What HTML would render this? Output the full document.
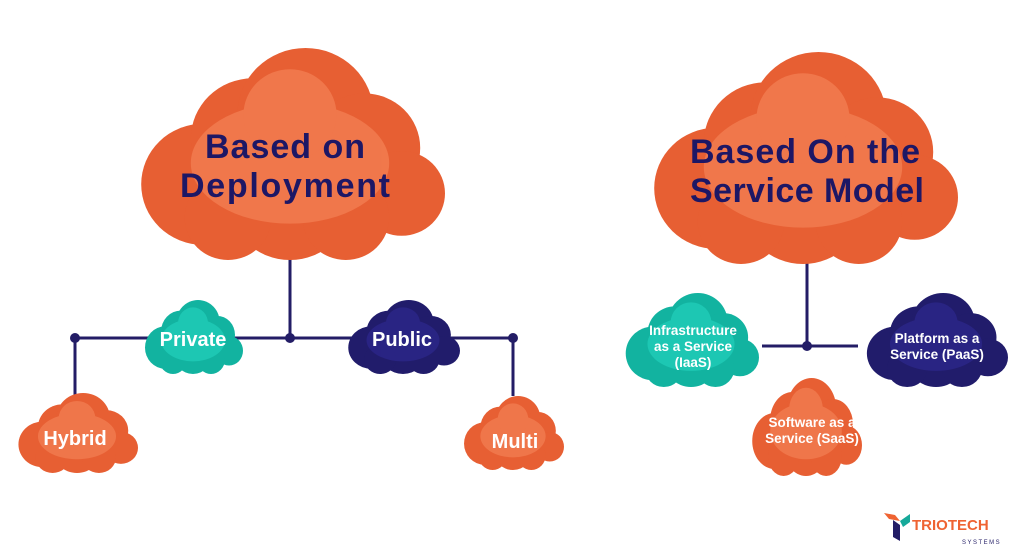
<!DOCTYPE html>
<html><head><meta charset="utf-8"><style>
body{margin:0;background:#fff;width:1024px;height:553px;overflow:hidden;font-family:"Liberation Sans",sans-serif}
</style></head><body>
<svg width="1024" height="553" viewBox="0 0 1024 553" xmlns="http://www.w3.org/2000/svg">
<defs>
<g id="c">
<circle cx="22" cy="45" r="20"/><circle cx="38" cy="30" r="20"/><circle cx="55" cy="22" r="22"/>
<circle cx="74" cy="33" r="18"/><circle cx="86" cy="48" r="14"/><circle cx="50" cy="50" r="20"/>
<circle cx="30" cy="56" r="14"/><circle cx="68" cy="56" r="14"/>
</g>
<g id="ci"><ellipse cx="50" cy="38" rx="32" ry="20"/><circle cx="50" cy="22" r="15"/></g>
</defs>
<g stroke="#231d66" stroke-width="3" fill="none">
<path d="M290 250V338M75 338H513M75 338V420M513 338V396"/>
<path d="M807 258V346M762 346H858"/>
</g>
<g fill="#231d66"><circle cx="75" cy="338" r="5"/><circle cx="290" cy="338" r="5"/><circle cx="513" cy="338" r="5"/><circle cx="807" cy="346" r="5"/></g>

<svg x="135" y="48" width="310" height="212" viewBox="0 0 100 70" preserveAspectRatio="none"><g fill="#e75f33"><use href="#c"/></g><g fill="#f27c50" opacity=".85"><use href="#ci"/></g></svg>
<svg x="648" y="52" width="310" height="212" viewBox="0 0 100 70" preserveAspectRatio="none"><g fill="#e75f33"><use href="#c"/></g><g fill="#f27c50" opacity=".85"><use href="#ci"/></g></svg>

<svg x="143" y="300" width="100" height="74" viewBox="0 0 100 70" preserveAspectRatio="none"><g fill="#12b3a0"><use href="#c"/></g><g fill="#20cdb8" opacity=".8"><use href="#ci"/></g></svg>
<svg x="346" y="300" width="114" height="74" viewBox="0 0 100 70" preserveAspectRatio="none"><g fill="#211c6b"><use href="#c"/></g><g fill="#2c268a" opacity=".8"><use href="#ci"/></g></svg>
<svg x="16" y="393" width="122" height="80" viewBox="0 0 100 70" preserveAspectRatio="none"><g fill="#e75f33"><use href="#c"/></g><g fill="#f27c50" opacity=".8"><use href="#ci"/></g></svg>
<svg x="462" y="396" width="102" height="74" viewBox="0 0 100 70" preserveAspectRatio="none"><g fill="#e75f33"><use href="#c"/></g><g fill="#f27c50" opacity=".8"><use href="#ci"/></g></svg>
<svg x="623" y="293" width="136" height="94" viewBox="0 0 100 70" preserveAspectRatio="none"><g fill="#12b3a0"><use href="#c"/></g><g fill="#20cdb8" opacity=".8"><use href="#ci"/></g></svg>
<svg x="864" y="293" width="144" height="94" viewBox="0 0 100 70" preserveAspectRatio="none"><g fill="#211c6b"><use href="#c"/></g><g fill="#2c268a" opacity=".8"><use href="#ci"/></g></svg>
<svg x="750" y="378" width="112" height="98" viewBox="0 0 100 70" preserveAspectRatio="none"><g fill="#e75f33"><use href="#c"/></g><g fill="#f27c50" opacity=".8"><use href="#ci"/></g></svg>

<g font-family="Liberation Sans, sans-serif" font-weight="bold" text-anchor="middle">
<g fill="#1d1765" font-size="34">
<text x="285" y="158" textLength="160">Based on</text><text x="285" y="197" textLength="210">Deployment</text>
<text x="805" y="163" textLength="230">Based On the</text><text x="807" y="202" textLength="234">Service Model</text>
</g>
<g fill="#fff" font-size="20">
<text x="193" y="346">Private</text><text x="402" y="346">Public</text>
<text x="75" y="445">Hybrid</text><text x="515" y="448">Multi</text>
</g>
<g fill="#fff" font-size="13.5">
<text x="693" y="335">Infrastructure</text><text x="693" y="351">as a Service</text><text x="693" y="367">(IaaS)</text>
<text x="937" y="343">Platform as a</text><text x="937" y="359">Service (PaaS)</text>
<text x="812" y="427">Software as a</text><text x="812" y="443">Service (SaaS)</text>
</g>
</g>
<polygon points="884,513 895,515 900,521 889,519" fill="#ef6332"/>
<polygon points="900,521 910,514 910,522 903,527" fill="#16a99a"/>
<polygon points="893,520 900,525 900,541 893,537" fill="#231d66"/>
<text x="912" y="530" font-family="Liberation Sans, sans-serif" font-weight="bold" font-size="15" fill="#ef6332">TRIOTECH</text>
<text x="962" y="544" font-family="Liberation Sans, sans-serif" font-size="6" fill="#231d66" letter-spacing="1.5">SYSTEMS</text>
</svg>
</body></html>
